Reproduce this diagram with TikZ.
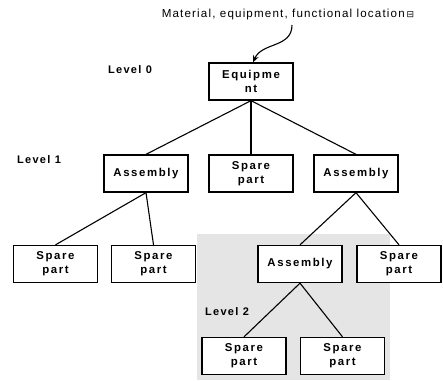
\documentclass[tikz,border=0pt]{standalone}
\usepackage{fontspec}
\setmainfont{Liberation Sans}
\newfontfamily\symfont{DejaVu Sans}
\newfontfamily\boxfont[LetterSpace=14]{Liberation Sans}
\newfontfamily\lvlfont[LetterSpace=12]{Liberation Sans}
\newfontfamily\capfont[LetterSpace=10]{Liberation Sans}
\usetikzlibrary{arrows.meta}
\tikzset{
  box/.style={draw, line width=1.3pt, fill=white, minimum width=84pt, minimum height=37pt,
    inner sep=0pt, align=center, font=\boxfont\bfseries\fontsize{11.4pt}{14pt}\selectfont},
  lvl/.style={font=\lvlfont\bfseries\fontsize{11pt}{12pt}\selectfont, inner sep=0pt},
  link/.style={line width=1.1pt},
}
\begin{document}
\begin{tikzpicture}[x=1pt,y=-1pt]
\useasboundingbox (0,0) rectangle (443,380);
% shaded area behind the lower subtree
\fill[black!10] (197,234) rectangle (390,380);

% caption and arrow into the root
\node[inner sep=0pt, font=\capfont\fontsize{11.6pt}{12pt}\selectfont] (cap) at (288,15)
  {Material, equipment, functional location\,{\symfont\fontsize{9pt}{9pt}\selectfont ⊟}};
\coordinate (capfoot) at (292,25);

% level labels
\node[lvl] (l0) at (130,70) {Level 0};
\node[lvl] (l1) at (39,160) {Level 1};
\node[lvl] (l2) at (227,312) {Level 2};

% boxes
\node[box] (eq) at (251,81.5) {Equipme\\nt};
\node[box] (a1) at (146,173.5) {Assembly};
\node[box] (s0) at (251,173.5) {Spare\\part};
\node[box] (a2) at (356,173.5) {Assembly};
\node[box] (s1) at (55.5,264) {Spare\\part};
\node[box] (s2) at (153.5,264) {Spare\\part};
\node[box] (a3) at (300,264) {Assembly};
\node[box] (s3) at (399,264) {Spare\\part};
\node[box] (s4) at (244,356) {Spare\\part};
\node[box] (s5) at (342.5,356) {Spare\\part};

\draw[link, -{Stealth[length=7pt,width=6pt]}] (capfoot) .. controls (292,48) and (262,42) .. (eq.north -| 253,0);

% tree connectors
\foreach \p/\c in {eq/a1, eq/s0, eq/a2, a1/s1, a1/s2, a2/a3, a2/s3, a3/s4, a3/s5}
  \draw[link] (\p.south) -- (\c.north);
\end{tikzpicture}
\end{document}
